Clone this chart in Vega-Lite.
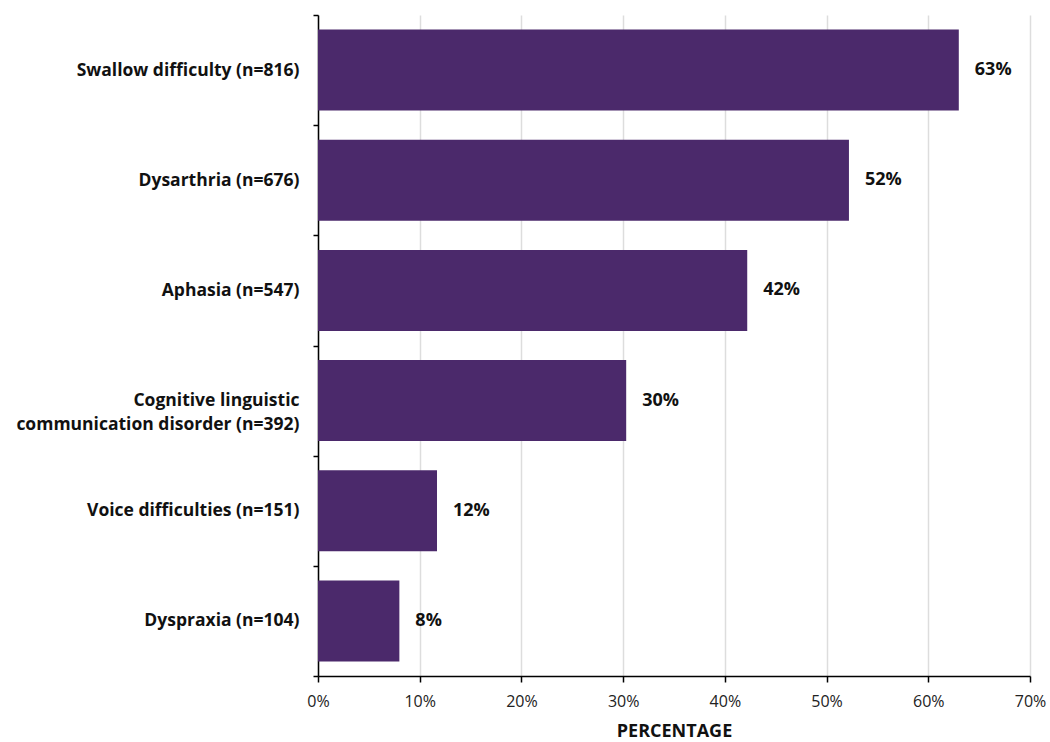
{
  "$schema": "https://vega.github.io/schema/vega-lite/v6.json",
  "width": 712,
  "height": 661,
  "autosize": {"type": "none"},
  "padding": {"left": 318, "top": 15, "right": 20, "bottom": 66},
  "background": "white",
  "data": {
    "values": [
      {"condition": "Swallow difficulty (n=816)", "pct": 63.0, "label": "63%"},
      {"condition": "Dysarthria (n=676)", "pct": 52.2, "label": "52%"},
      {"condition": "Aphasia (n=547)", "pct": 42.2, "label": "42%"},
      {"condition": "Cognitive linguistic|communication disorder (n=392)", "pct": 30.3, "label": "30%"},
      {"condition": "Voice difficulties (n=151)", "pct": 11.7, "label": "12%"},
      {"condition": "Dyspraxia (n=104)", "pct": 8.0, "label": "8%"}
    ]
  },
  "encoding": {
    "y": {
      "field": "condition",
      "type": "nominal",
      "sort": null,
      "scale": {"paddingInner": 0, "paddingOuter": 0},
      "axis": {
        "title": null,
        "tickBand": "extent",
        "domainColor": "#000000",
        "domainWidth": 1.5,
        "tickColor": "#000000",
        "tickWidth": 1.5,
        "tickSize": 5,
        "labelPadding": 14,
        "labelFont": "Open Sans",
        "labelFontWeight": "bold",
        "labelFontSize": 17.5,
        "labelColor": "#111111",
        "labelLineHeight": 24,
        "labelLimit": 400,
        "labelExpr": "split(datum.label, '|')",
        "grid": false
      }
    },
    "x": {
      "field": "pct",
      "type": "quantitative",
      "scale": {"domain": [0, 70], "nice": false},
      "axis": {
        "title": "PERCENTAGE",
        "titleFont": "Open Sans",
        "titleFontWeight": "bold",
        "titleFontSize": 18,
        "titleColor": "#111111",
        "titlePadding": 13,
        "values": [0, 10, 20, 30, 40, 50, 60, 70],
        "labelExpr": "datum.value + '%'",
        "labelFlush": false,
        "labelFont": "Open Sans",
        "labelFontSize": 16,
        "labelColor": "#222222",
        "labelPadding": 11,
        "domainColor": "#000000",
        "domainWidth": 1.5,
        "tickColor": "#000000",
        "tickWidth": 1.5,
        "tickSize": 6,
        "grid": true,
        "gridColor": "#dddddd",
        "gridWidth": 1.5
      }
    }
  },
  "layer": [
    {"mark": {"type": "bar", "color": "#4B296B", "height": {"band": 0.735}}},
    {
      "mark": {"type": "text", "align": "left", "baseline": "middle", "dx": 16, "font": "Open Sans", "fontWeight": "bold", "fontSize": 18, "color": "#111111"},
      "encoding": {"text": {"field": "label"}}
    }
  ],
  "config": {"view": {"stroke": null}}
}
